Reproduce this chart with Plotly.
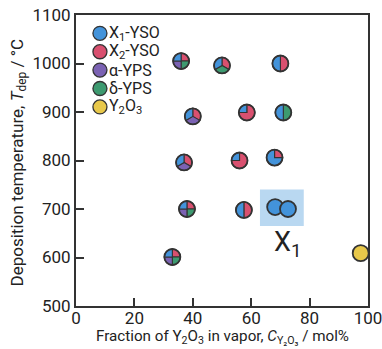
import numpy as np
import plotly.graph_objects as go

# Deposition conditions (vapor composition, substrate temperature)
comp = [36, 50, 70, 40, 58.5, 71, 37, 56, 68, 38, 57.5, 68.2, 72.6, 33, 97.5]
temp = [1005, 996, 1000, 891, 899, 899, 796, 800, 806, 700, 698, 704, 700, 601, 609]

# Phase fractions found at each condition
frac_x2 = [0.25, 1/3, 0.5, 1/3, 0.75, 0.0, 1/3, 0.75, 0.25, 0.25, 0.5, 0, 0, 0.25, 0]
frac_d = [0.25, 1/3, 0.0, 0.0, 0.0, 0.5, 0.0, 0.0, 0.0, 0.25, 0.0, 0, 0, 0.25, 0]
frac_a = [0.25, 0.0, 0.0, 1/3, 0.0, 0.0, 1/3, 0.0, 0.0, 0.25, 0.0, 0, 0, 0.25, 0]
frac_x1 = [0.25, 1/3, 0.5, 1/3, 0.25, 0.5, 1/3, 0.25, 0.75, 0.25, 0.5, 1, 1, 0.25, 0]
frac_y = [0, 0, 0, 0, 0, 0, 0, 0, 0, 0, 0, 0, 0, 0, 1]

phase_names = ["X<sub>1</sub>-YSO", "X<sub>2</sub>-YSO", "α-YPS", "δ-YPS",
               "Y<sub>2</sub>O<sub>3</sub>"]
phase_colors = ["#4393da", "#d9506f", "#7b62b3", "#3d9a70", "#e8c84a"]
C_X1, C_X2, C_A, C_D, C_Y = phase_colors

x_ticks = [0, 20, 40, 60, 80, 100]
y_ticks = [500, 600, 700, 800, 900, 1000, 1100]

EDGE = "#333333"
TXT = "#222222"
R = 8  # pie radius in px
FONT = "Roboto"


def wedge(a0, a1, r=R):
    """Pixel-space path of a pie wedge, angles clockwise from 12 o'clock."""
    ts = np.linspace(a0, a1, max(4, int((a1 - a0) / 4) + 2))
    pts = ["M0,0"] + [f"L{r*np.sin(t*np.pi/180):.3f},{r*np.cos(t*np.pi/180):.3f}" for t in ts]
    return " ".join(pts) + " Z"


shapes = []
# highlight box around the single-phase X1 region
shapes.append(dict(type="rect", xref="x", yref="y", x0=63, x1=78, y0=665, y1=740,
                   fillcolor="#b9d8f1", line=dict(width=0), layer="below"))

fill = []
for i in range(len(comp)):
    parts = [(frac_x2[i], C_X2), (frac_d[i], C_D), (frac_a[i], C_A),
             (frac_x1[i], C_X1), (frac_y[i], C_Y)]
    parts = [p for p in parts if p[0] > 0]
    if len(parts) == 1:
        fill.append(parts[0][1])
        continue
    fill.append("rgba(0,0,0,0)")
    a = 0.0
    for f, col in parts:
        shapes.append(dict(type="path", xref="x", yref="y",
                           xsizemode="pixel", ysizemode="pixel",
                           xanchor=comp[i], yanchor=temp[i],
                           path=wedge(a, a + 360 * f), fillcolor=col,
                           line=dict(color=EDGE, width=1.1), layer="below"))
        a += 360 * f

fig = go.Figure()
fig.add_trace(go.Scatter(
    x=comp, y=temp, mode="markers", cliponaxis=False, showlegend=False,
    marker=dict(size=2 * R, color=fill, line=dict(color=EDGE, width=1.8)),
    hoverinfo="skip"))

# legend built from circles and labels
annotations = []
for k, (name, col) in enumerate(zip(phase_names, phase_colors)):
    yk = 0.937 - k * 0.0632
    shapes.append(dict(type="circle", xref="paper", yref="paper",
                       x0=0.058, x1=0.106, y0=yk - 0.0241, y1=yk + 0.0241,
                       fillcolor=col, line=dict(color=EDGE, width=1.3)))
    annotations.append(dict(xref="paper", yref="paper", x=0.106, y=yk,
                            xanchor="left", yanchor="middle", showarrow=False,
                            text=name, font=dict(family=FONT, size=16, color=TXT)))

annotations.append(dict(xref="x", yref="y", x=72.5, y=628, showarrow=False,
                        text="X<sub>1</sub>", font=dict(family=FONT, size=27, color=TXT)))

# axis titles
annotations.append(dict(xref="paper", yref="paper", x=0.5, y=0, yshift=-31,
                        xanchor="center", yanchor="middle", showarrow=False,
                        text="Fraction of Y<sub>2</sub>O<sub>3</sub> in vapor, "
                             "<i>C</i><sub>Y₂O₃</sub> / mol%",
                        font=dict(family=FONT, size=15.2, color=TXT)))
annotations.append(dict(xref="paper", yref="paper", x=0, y=0.5, xshift=-58, yshift=-2,
                        xanchor="center", yanchor="middle", showarrow=False,
                        textangle=-90,
                        text="Deposition temperature, <i>T</i><sub>dep</sub> / °C",
                        font=dict(family=FONT, size=17, color=TXT)))

fig.update_layout(
    width=382, height=349,
    margin=dict(l=76, r=14, t=15, b=43),
    paper_bgcolor="white", plot_bgcolor="white",
    showlegend=False,
    shapes=shapes, annotations=annotations,
    xaxis=dict(range=[0, 100], tickvals=x_ticks, ticks="inside", ticklen=8,
               tickwidth=2, tickcolor=EDGE, showline=True, linecolor=EDGE,
               linewidth=2, mirror=True, showgrid=False, zeroline=False,
               automargin=False, ticklabelstandoff=-4, ticklabeloverflow="allow",
               tickfont=dict(family=FONT, size=17, color=TXT)),
    yaxis=dict(range=[500, 1100], tickvals=y_ticks, ticks="inside", ticklen=8,
               tickwidth=2, tickcolor=EDGE, showline=True, linecolor=EDGE,
               linewidth=2, mirror=True, showgrid=False, zeroline=False,
               automargin=False, ticklabeloverflow="allow",
               tickfont=dict(family=FONT, size=17, color=TXT)),
)

fig.write_html("out.html")
